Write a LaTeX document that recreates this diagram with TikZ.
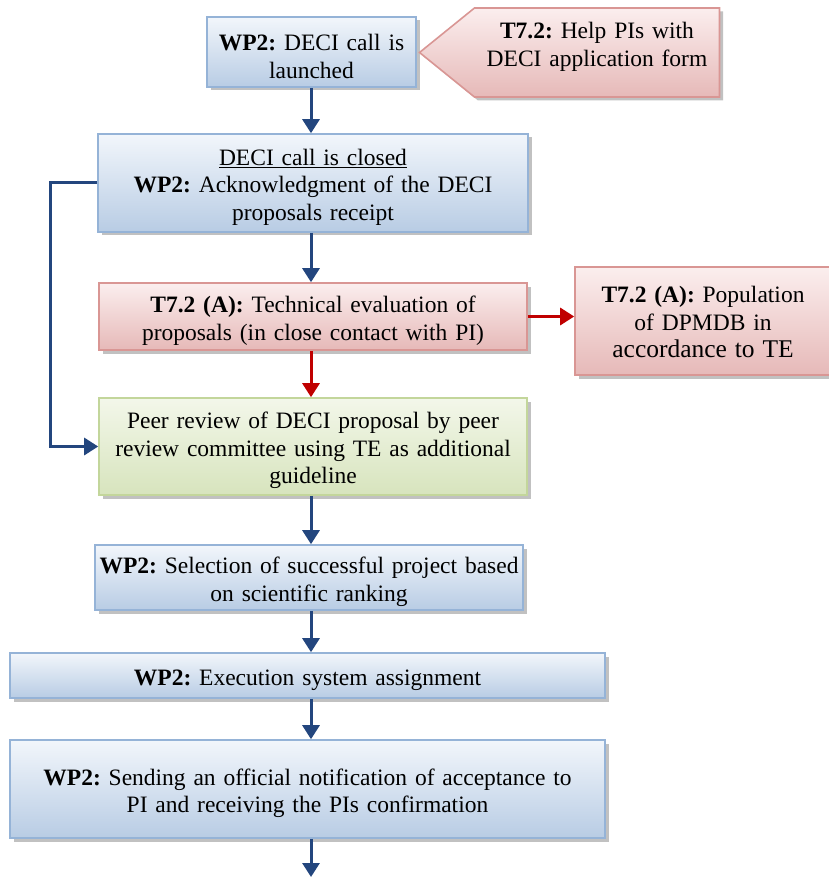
\documentclass[tikz,border=0pt]{standalone}
\usepackage{fontspec}
\setmainfont{Liberation Serif}
\usetikzlibrary{arrows.meta,shadows,shapes.symbols}
\definecolor{bluebd}{HTML}{95B3D7}
\definecolor{bluetop}{HTML}{F2F6FB}
\definecolor{bluebot}{HTML}{B8CCE4}
\definecolor{redbd}{HTML}{D99694}
\definecolor{redtop}{HTML}{FBEEEE}
\definecolor{redbot}{HTML}{E6B9B8}
\definecolor{greenbd}{HTML}{C3D69B}
\definecolor{greentop}{HTML}{F3F7EA}
\definecolor{greenbot}{HTML}{D7E4BD}
\definecolor{flowblue}{HTML}{23467E}
\definecolor{flowred}{HTML}{C00000}
\frenchspacing
\begin{document}
\begin{tikzpicture}[x=1pt, y=-1pt, font=\fontsize{23.5}{27.5}\selectfont,
  box/.style = {draw, line width=1.6pt, align=center, inner sep=0pt,
    execute at begin node={\rule{0pt}{25pt}},
    drop shadow={shadow xshift=3.5pt, shadow yshift=-3.5pt, fill=black!35, opacity=0.7}},
  bluebox/.style = {box, draw=bluebd, top color=bluetop, bottom color=bluebot},
  redbox/.style = {box, draw=redbd, top color=redtop, bottom color=redbot},
  greenbox/.style = {box, draw=greenbd, top color=greentop, bottom color=greenbot},
  flow/.style = {line width=3pt, draw=flowblue, -{Triangle[length=14pt, width=17pt]}},
  redflow/.style = {flow, draw=flowred}]
  \useasboundingbox (0,0) rectangle (828,877);
  \node[bluebox, minimum width=209pt, minimum height=70pt, text width=207pt] (launch) at (311.5,52) {\textbf{WP2:} DECI call is\\launched};
  \node[redbox, shape=signal, signal to=west, signal pointer angle=78,
    execute at end node={\rule[-25pt]{0pt}{1pt}},
    minimum width=300pt, minimum height=89pt, text width=240pt] (help) at (597,52.5) {\textbf{T7.2:} Help PIs with\\DECI application form};
  \node[bluebox, minimum width=430pt, minimum height=98pt, text width=420pt] (closed) at (313,183) {\underline{DECI call is closed}\\\textbf{WP2:} Acknowledgment of the DECI\\proposals receipt};
  \node[redbox, minimum width=428pt, minimum height=67pt, text width=420pt] (techeval) at (313,316.5) {\textbf{T7.2 (A):} Technical evaluation of\\proposals (in close contact with PI)};
  \node[redbox, execute at end node={\rule[-7pt]{0pt}{1pt}}, minimum width=256pt, minimum height=108pt, text width=250pt] (dpmdb) at (703,321) {\textbf{T7.2 (A):} Population\\of DPMDB in\\{\fontsize{25.5}{30}\selectfont accordance to TE}};
  \node[greenbox, minimum width=428pt, minimum height=97pt, text width=426pt] (peer) at (313,446.5) {Peer review of DECI proposal by peer\\review committee using TE as additional\\guideline};
  \node[bluebox, minimum width=428pt, minimum height=65pt, text width=426pt] (select) at (309,577.5) {\textbf{WP2:} Selection of successful project based\\on scientific ranking};
  \node[bluebox, minimum width=595pt, minimum height=45pt, text width=580pt] (exec) at (307.5,675.5) {\textbf{WP2:} Execution system assignment};
  \node[bluebox, minimum width=595pt, minimum height=98pt, text width=580pt] (notify) at (307.5,789) {\textbf{WP2:} Sending an official notification of acceptance to\\PI and receiving the PIs confirmation};
  \coordinate (fbleft) at (50,183);
  \coordinate (fbdown) at (50,446.5);
  \coordinate (tail) at (311,877);
  \draw[flow] (launch.south -| 311,0) -- (closed.north -| 311,0);
  \draw[flow] (closed.south -| 311,0) -- (techeval.north -| 311,0);
  \draw[redflow] (techeval.east) -- (dpmdb.west |- techeval.east);
  \draw[redflow] (techeval.south -| 311,0) -- (peer.north -| 311,0);
  \draw[flow] (closed.west) -- (fbleft) -- (fbdown) -- (peer.west);
  \draw[flow] (peer.south -| 311,0) -- (select.north -| 311,0);
  \draw[flow] (select.south -| 311,0) -- (exec.north -| 311,0);
  \draw[flow] (exec.south -| 311,0) -- (notify.north -| 311,0);
  \draw[flow] (notify.south -| 311,0) -- (tail);
\end{tikzpicture}
\end{document}
